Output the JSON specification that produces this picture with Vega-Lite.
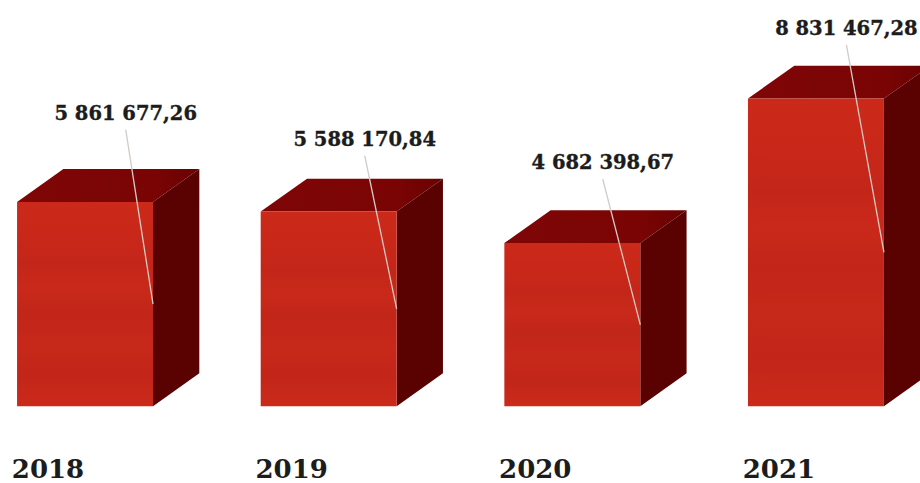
{
"$schema":"https://vega.github.io/schema/vega-lite/v6.json",
"width":920,"height":483,"padding":0,"autosize":{"type":"none"},
"background":"#ffffff","view":{"stroke":null},
"data":{"values":[
{"year":2018,"value":5861677.26,"label":"5 861 677,26"},
{"year":2019,"value":5588170.84,"label":"5 588 170,84"},
{"year":2020,"value":4682398.67,"label":"4 682 398,67"},
{"year":2021,"value":8831467.28,"label":"8 831 467,28"}]},
"transform":[
{"calculate":"datum.year+0.558","as":"right"},
{"calculate":"datum.right+0.19","as":"backRight"},
{"calculate":"datum.year+0.19","as":"backLeft"},
{"calculate":"datum.value+945000","as":"topBack"},
{"calculate":"datum.year+{2018:0.446,2019:0.427,2020:0.404,2021:0.404}[datum.year]","as":"leadX"},
{"calculate":"datum.value+{2018:2535000,2019:2060000,2020:2290000,2021:2000000}[datum.year]","as":"labelY"},
{"calculate":"datum.labelY-458000","as":"leadTop"},
{"calculate":"datum.value/2","as":"leadEnd"},
{"calculate":"datum.year+0.127","as":"yearX"}
],
"encoding":{},
"layer":[
{"transform":[{"calculate":"[0,1]","as":"t"},{"flatten":["t"]},
 {"calculate":"datum.t?datum.topBack:datum.value","as":"yy"},
 {"calculate":"datum.t?datum.backLeft:datum.year","as":"xa"},
 {"calculate":"datum.t?datum.backRight:datum.right","as":"xb"}],
 "mark":{"type":"area","orient":"horizontal","color":{"gradient":"linear","x1":0,"y1":0,"x2":1,"y2":0,"stops":[{"offset":0,"color":"#7f0606"},{"offset":0.75,"color":"#7a0404"},{"offset":1,"color":"#690202"}]},"opacity":1,"interpolate":"linear"},
 "encoding":{"detail":{"field":"year"},
  "y":{"field":"yy","type":"quantitative","scale":{"domain":[-2206000,11662000],"range":[483,0],"nice":false,"zero":false},"axis":null},
  "x":{"field":"xa","type":"quantitative","scale":{"domain":[2017.93,2021.706],"range":[0,920],"nice":false,"zero":false},"axis":null},
  "x2":{"field":"xb"}}},
{"transform":[{"calculate":"[0,1]","as":"t"},{"flatten":["t"]},
 {"calculate":"datum.t?datum.backRight:datum.right","as":"xx"},
 {"calculate":"datum.t?945000:0","as":"lo"},
 {"calculate":"datum.t?datum.topBack:datum.value","as":"hi"}],
 "mark":{"type":"area","color":"#5a0101","opacity":1,"interpolate":"linear"},
 "encoding":{"detail":{"field":"year"},
  "x":{"field":"xx","type":"quantitative","axis":null},
  "y":{"field":"lo","type":"quantitative","axis":null},
  "y2":{"field":"hi"}}},
{"mark":{"type":"bar","color":{"gradient":"linear","x1":0,"y1":0,"x2":0,"y2":1,"stops":[
  {"offset":0,"color":"#cb2a1a"},{"offset":0.15,"color":"#c92819"},{"offset":0.3,"color":"#c32619"},
  {"offset":0.42,"color":"#c9291a"},{"offset":0.55,"color":"#c12619"},{"offset":0.7,"color":"#c7281a"},
  {"offset":0.85,"color":"#c22619"},{"offset":1,"color":"#cb2a1a"}]}},
 "encoding":{
  "x":{"field":"year","type":"quantitative","axis":null},
  "x2":{"field":"right"},
  "y":{"field":"value","type":"quantitative","axis":null},
  "y2":{"datum":0}}},
{"mark":{"type":"rule","color":"#d3cbc6","strokeWidth":1.3},
 "encoding":{
  "x":{"field":"leadX","type":"quantitative","axis":null},
  "x2":{"field":"right"},
  "y":{"field":"leadTop","type":"quantitative","axis":null},
  "y2":{"field":"leadEnd"}}},
{"mark":{"type":"text","font":"DejaVu Serif","fontWeight":"bold","fontSize":19.5,"color":"#1c1c1c","stroke":"#1c1c1c","strokeWidth":0.35,"align":"center","baseline":"middle"},
 "encoding":{
  "x":{"field":"leadX","type":"quantitative","axis":null},
  "y":{"field":"labelY","type":"quantitative","axis":null},
  "text":{"field":"label"}}},
{"mark":{"type":"text","font":"DejaVu Serif","fontWeight":"bold","fontSize":26,"color":"#1c1c1c","align":"center","baseline":"middle"},
 "encoding":{
  "x":{"field":"yearX","type":"quantitative","axis":null},
  "y":{"datum":-1834000},
  "text":{"field":"year","type":"nominal"}}}
],
"resolve":{"scale":{"x":"shared","y":"shared"}}
}
